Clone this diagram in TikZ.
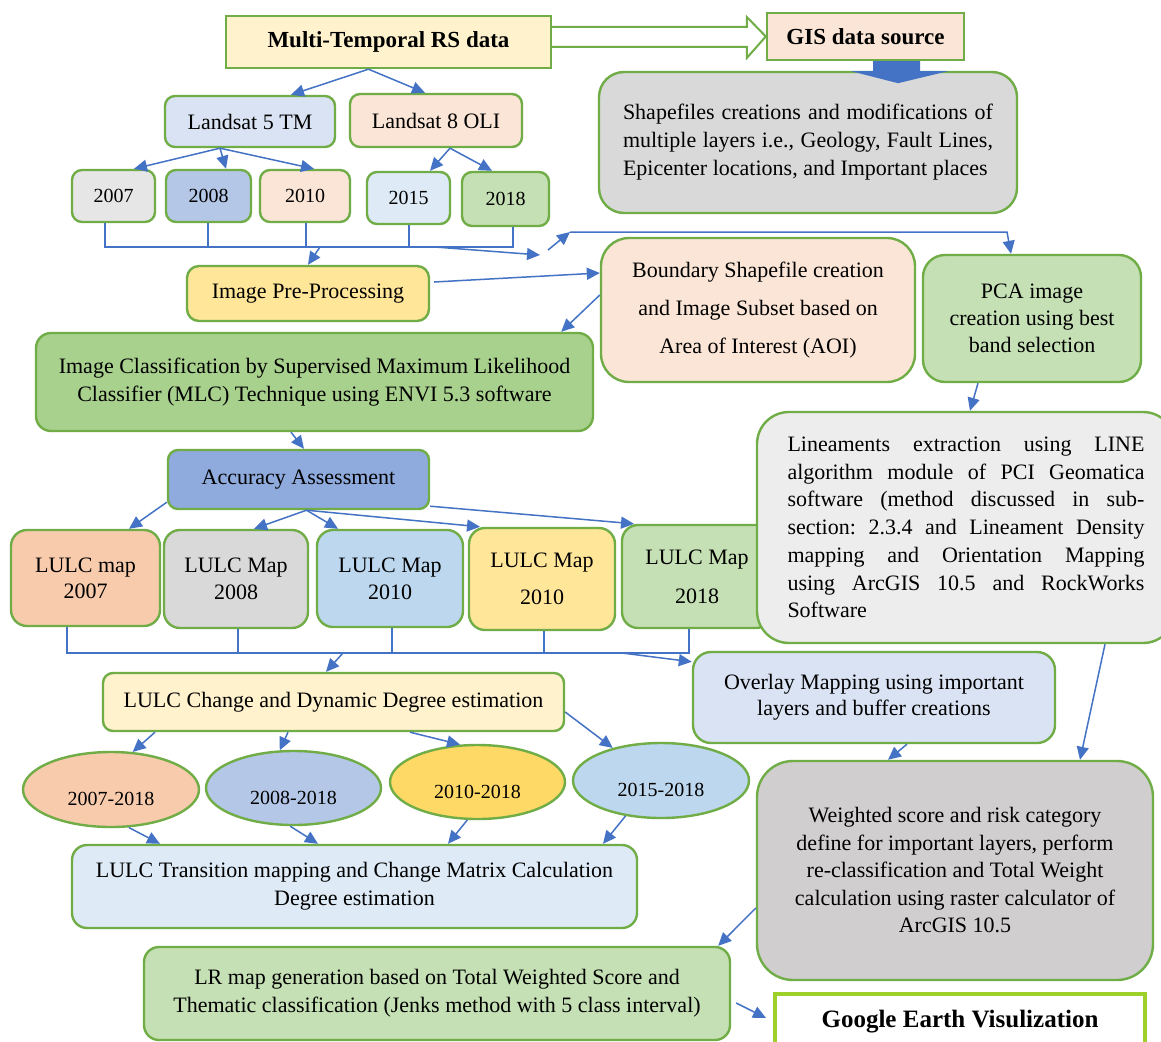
\documentclass[tikz,border=0pt]{standalone}
\usepackage{fontspec}
\setmainfont{Liberation Serif}
\usepackage{tikz}
\usetikzlibrary{arrows.meta,shapes.geometric}

\definecolor{boxgreen}{HTML}{70AD47}
\definecolor{linkblue}{HTML}{4472C4}
\definecolor{limegreen}{HTML}{9DD12A}
\definecolor{fillcream}{HTML}{FFF2CC}
\definecolor{fillpeach}{HTML}{FBE5D6}
\definecolor{fillgray}{HTML}{D9D9D9}
\definecolor{fillpale}{HTML}{DAE3F3}
\definecolor{filllight}{HTML}{E7E6E6}
\definecolor{fillsteel}{HTML}{B4C7E7}
\definecolor{fillice}{HTML}{DEEBF7}
\definecolor{fillmint}{HTML}{C5E0B4}
\definecolor{fillgold}{HTML}{FFE699}
\definecolor{fillleaf}{HTML}{A9D18E}
\definecolor{fillnavy}{HTML}{8FAADC}
\definecolor{fillsalmon}{HTML}{F8CBAD}
\definecolor{fillsky}{HTML}{BDD7EE}
\definecolor{fillsun}{HTML}{FFD966}
\definecolor{fillsmoke}{HTML}{EDEDED}
\definecolor{fillstone}{HTML}{D0CECE}

\newcommand{\bodyfont}{\fontsize{22pt}{28pt}\selectfont}
\newcommand{\yearfont}{\fontsize{20pt}{26pt}\selectfont}
\newcommand{\headfont}{\fontsize{23pt}{28pt}\selectfont\bfseries}

\begin{document}
\frenchspacing
\begin{tikzpicture}[x=1pt, y=-1pt,
	gbox/.style={draw=boxgreen, line width=2.4pt, inner sep=0pt, align=center, font=\bodyfont},
	roundbox/.style={gbox, rounded corners=#1},
	roundbox/.default=10pt,
	flatbox/.style={gbox, font=\headfont},
	yearbox/.style={roundbox, font=\yearfont},
	oval/.style={gbox, ellipse, font=\yearfont, text height=32pt, text depth=0pt},
	dims/.style 2 args={minimum width=#1, minimum height=#2},
	link/.style={color=linkblue, line width=1.5pt},
	arr/.style={link, -{Triangle[length=13pt,width=12pt]}}]

	\useasboundingbox[fill=white] (0,0) rectangle (1161,1041);

	% sources
	\node[flatbox, fill=fillcream, dims={325pt}{52pt}] (multi) at (388.5,42) {Multi-Temporal RS data};
	\node[flatbox, fill=fillpeach, dims={197pt}{47pt}] (gis) at (865.5,36.5) {GIS data source};
	\node[roundbox=25pt, fill=fillgray, dims={418pt}{141pt}, text width=370pt, align=justify] (shp) at (808,142.5)
		{Shapefiles creations and modifications of\linebreak multiple layers i.e., Geology, Fault Lines,\linebreak Epicenter locations, and Important places};

	\node[roundbox, fill=fillpale, dims={170pt}{51pt}] (ls5) at (250,121.5) {Landsat 5 TM};
	\node[roundbox, fill=fillpeach, dims={172pt}{53pt}] (ls8) at (436,120.5) {Landsat 8 OLI};

	\node[yearbox, fill=filllight, dims={83pt}{52pt}] (y07) at (113.5,196) {2007};
	\node[yearbox, fill=fillsteel, dims={85pt}{52pt}] (y08) at (208.5,196) {2008};
	\node[yearbox, fill=fillpeach, dims={90pt}{52pt}] (y10) at (305,196) {2010};
	\node[yearbox, fill=fillice, dims={83pt}{52pt}] (y15) at (408.5,198) {2015};
	\node[yearbox, fill=fillmint, dims={87pt}{54pt}] (y18) at (505.5,199) {2018};

	% processing
	\node[roundbox=12pt, fill=fillgold, dims={242pt}{55pt}] (pre) at (308,293.5) {Image Pre-Processing};
	\node[roundbox=28pt, fill=fillpeach, dims={314pt}{144pt}, font=\fontsize{22pt}{38pt}\selectfont] (bnd) at (758,310)
		{Boundary Shapefile creation\\ and Image Subset based on\\ Area of Interest (AOI)};
	\node[roundbox=22pt, fill=fillmint, dims={218pt}{127pt}, font=\fontsize{22pt}{27pt}\selectfont] (pca) at (1032,318.5)
		{PCA image\\ creation using best\\ band selection};
	\node[roundbox=15pt, fill=fillleaf, dims={557pt}{98pt}] (cls) at (314.5,382)
		{Image Classification by Supervised Maximum Likelihood\\ Classifier (MLC) Technique using ENVI 5.3 software};
	\node[roundbox, fill=fillnavy, dims={261pt}{59pt}] (acc) at (298.5,479.5) {Accuracy Assessment};

	% LULC maps
	\node[roundbox=16pt, fill=fillsalmon, dims={149pt}{96pt}, font=\fontsize{22pt}{26pt}\selectfont] (m07) at (85.5,578) {LULC map\\ 2007};
	\node[roundbox=16pt, fill=fillgray, dims={144pt}{98pt}, font=\fontsize{22pt}{27pt}\selectfont] (m08) at (236,579) {LULC Map\\ 2008};
	\node[roundbox=16pt, fill=fillsky, dims={146pt}{97pt}, font=\fontsize{22pt}{27pt}\selectfont] (m10) at (390,578.5) {LULC Map\\ 2010};
	\node[roundbox=16pt, fill=fillgold, dims={146pt}{102pt}, font=\fontsize{22pt}{37pt}\selectfont] (m10b) at (542,579) {LULC Map\\ 2010};
	\node[roundbox=16pt, fill=fillmint, dims={150pt}{103pt}, font=\fontsize{22pt}{39pt}\selectfont] (m18) at (697,576.5) {LULC Map\\ 2018};

	\node[roundbox=32pt, fill=fillsmoke, dims={418pt}{231pt}, text width=357pt, align=justify, font=\fontsize{22pt}{27.7pt}\selectfont] (lin) at (966,527.5)
		{Lineaments extraction using LINE\linebreak algorithm module of PCI Geomatica\linebreak software (method discussed in sub-\linebreak section: 2.3.4 and Lineament Density\linebreak mapping and Orientation Mapping\linebreak using ArcGIS 10.5 and RockWorks\linebreak Software};

	\node[roundbox, fill=fillcream, dims={461pt}{58pt}] (chg) at (333.5,702) {LULC Change and Dynamic Degree estimation};
	\node[roundbox=18pt, fill=fillpale, dims={362pt}{91pt}, font=\fontsize{22pt}{26pt}\selectfont] (ovl) at (874,697.5)
		{Overlay Mapping using important\\ layers and buffer creations};

	% change periods
	\node[oval, fill=fillsalmon, dims={176pt}{75pt}] (e1) at (111,789.5) {2007-2018};
	\node[oval, fill=fillsteel, dims={175pt}{74pt}] (e2) at (293.5,788) {2008-2018};
	\node[oval, fill=fillsun, dims={175pt}{74pt}] (e3) at (477.5,782) {2010-2018};
	\node[oval, fill=fillsky, dims={176pt}{75pt}] (e4) at (661,780.5) {2015-2018};

	\node[roundbox=15pt, fill=fillice, dims={565pt}{83pt}] (trn) at (354.5,886.5)
		{LULC Transition mapping and Change Matrix Calculation\\ Degree estimation};
	\node[roundbox=36pt, fill=fillstone, dims={396pt}{219pt}, font=\fontsize{22pt}{27.5pt}\selectfont] (wgt) at (955,870.5)
		{Weighted score and risk category\\ define for important layers, perform\\ re-classification and Total Weight\\ calculation using raster calculator of\\ ArcGIS 10.5};
	\node[roundbox=15pt, fill=fillmint, dims={586pt}{93pt}] (lrm) at (437,993.5)
		{LR map generation based on Total Weighted Score and\\ Thematic classification (Jenks method with 5 class interval)};
	\node[draw=limegreen, line width=4pt, fill=white, inner sep=0pt, dims={370pt}{56pt}, font=\fontsize{25pt}{30pt}\selectfont\bfseries] (gge) at (960,1022)
		{Google Earth Visulization};

	% block arrows
	\filldraw[draw=boxgreen, fill=white, line width=2pt] ([yshift=15pt]multi.east) -- ([xshift=-19pt,yshift=9.5pt]gis.west)
		-- ([xshift=-19pt,yshift=19.5pt]gis.west) -- (gis.west) -- ([xshift=-19pt,yshift=-21.5pt]gis.west)
		-- ([xshift=-19pt,yshift=-10.5pt]gis.west) -- ([yshift=-5pt]multi.east);
	\fill[linkblue] ([xshift=7.5pt]gis.south) -- ([xshift=54.5pt]gis.south) -- ([xshift=54.5pt,yshift=-10pt]gis.south)
		-- ([xshift=82.5pt,yshift=-10pt]gis.south) -- ([xshift=32.5pt,yshift=-22pt]gis.south)
		-- ([xshift=-14.5pt,yshift=-10pt]gis.south) -- ([xshift=7.5pt,yshift=-10pt]gis.south) -- cycle;

	% satellites and years
	\path[arr] ([xshift=-20pt]multi.south) edge ([xshift=41pt]ls5.north)
		([xshift=-20pt]multi.south) edge ([xshift=-11pt]ls8.north);
	\path[arr] ([xshift=-30pt]ls5.south) edge ([xshift=20.5pt]y07.north)
		([xshift=-30pt]ls5.south) edge ([xshift=17.5pt]y08.north)
		([xshift=-30pt]ls5.south) edge ([xshift=9pt]y10.north);
	\path[arr] ([xshift=14pt]ls8.south) edge ([xshift=21.5pt]y15.north)
		([xshift=14pt]ls8.south) edge ([xshift=-13.5pt]y18.north);

	\coordinate (b07) at ([xshift=-8.5pt]y07.south);
	\coordinate (b08) at ([xshift=-0.5pt]y08.south);
	\coordinate (b10) at ([xshift=1pt]y10.south);
	\coordinate (b15) at ([xshift=0.5pt]y15.south);
	\coordinate (b18) at ([xshift=7.5pt]y18.south);
	\coordinate (joinL) at (105,247);
	\coordinate (joinR) at (513,247);
	\draw[link] (b07) |- (joinR) -- (b18);
	\foreach \b in {b08,b10,b15} \draw[link] (\b) -- (\b |- joinL);

	\coordinate (yrPre) at (320,247);
	\coordinate (yrHub) at (435,247);
	\coordinate (hubIn) at (540,255);
	\coordinate (hubOut) at (548,250);
	\coordinate (hubTop) at (570,232);
	\coordinate (hubEnd) at (1007,232);
	\path[arr] (yrPre) edge (pre.north);
	\path[arr] (yrHub) edge (hubIn);
	\path[arr] (hubOut) edge (hubTop);
	\draw[arr] (hubTop) -- (hubEnd) -- ([xshift=-21pt]pca.north);

	% pre-processing and classification
	\path[arr] ([xshift=4pt,yshift=11.5pt]pre.east) edge ([yshift=37pt]bnd.west);
	\path[arr] ([yshift=15pt]bnd.west) edge ([xshift=-33pt]cls.north east);
	\path[arr] ([xshift=-23.5pt]cls.south) edge ([xshift=5.5pt]acc.north);
	\path[arr] ([xshift=-54pt]pca.south) edge ([xshift=4pt]lin.north);

	\path[arr] ([yshift=8pt]acc.south west) edge ([xshift=43.5pt]m07.north);
	\path[arr] ([xshift=8pt]acc.south) edge ([xshift=18pt]m08.north)
		([xshift=8pt]acc.south) edge ([xshift=-52pt]m10.north)
		([xshift=8pt]acc.south) edge ([xshift=-62pt]m10b.north);
	\path[arr] ([yshift=4pt]acc.south east) edge ([xshift=-63pt]m18.north);

	% maps to change analysis
	\coordinate (c07) at ([xshift=-18.5pt]m07.south);
	\coordinate (c08) at ([xshift=2pt]m08.south);
	\coordinate (c10) at ([xshift=2pt]m10.south);
	\coordinate (c10b) at ([xshift=2pt]m10b.south);
	\coordinate (c18) at ([xshift=-8pt]m18.south);
	\coordinate (mapL) at (67,653);
	\coordinate (mapR) at (689,653);
	\draw[link] (c07) |- (mapR) -- (c18);
	\foreach \c in {c08,c10,c10b} \draw[link] (\c) -- (\c |- mapL);

	\coordinate (mapChg) at (343,653);
	\coordinate (mapOvl) at (622,653);
	\path[arr] (mapChg) edge ([xshift=-7.5pt]chg.north);
	\path[arr] (mapOvl) edge ([yshift=-11pt]ovl.north west);

	\path[arr] ([xshift=-178.5pt]chg.south) edge (e1.60)
		([xshift=-45.5pt]chg.south) edge (e2.110)
		([xshift=76.5pt]chg.south) edge (e3.115)
		([yshift=-10pt]chg.east) edge (e4.146);
	\path[arr] (e1.-65) edge ([xshift=-194.5pt]trn.north)
		(e2.-95) edge ([xshift=-36.5pt]trn.north)
		(e3.-105) edge ([xshift=93.5pt]trn.north)
		(e4.-135) edge ([xshift=248.5pt]trn.north);

	% risk mapping
	\path[arr] ([xshift=139pt]lin.south) edge ([xshift=125pt]wgt.north);
	\path[arr] ([xshift=33pt]ovl.south) edge ([xshift=-67pt]wgt.north);
	\path[arr] ([yshift=-37.5pt]wgt.west) edge ([xshift=-13pt]lrm.north east);
	\path[arr] ([xshift=5pt,yshift=-9.5pt]lrm.east) edge ([xshift=-7pt,yshift=4pt]gge.west);

\end{tikzpicture}
\end{document}
